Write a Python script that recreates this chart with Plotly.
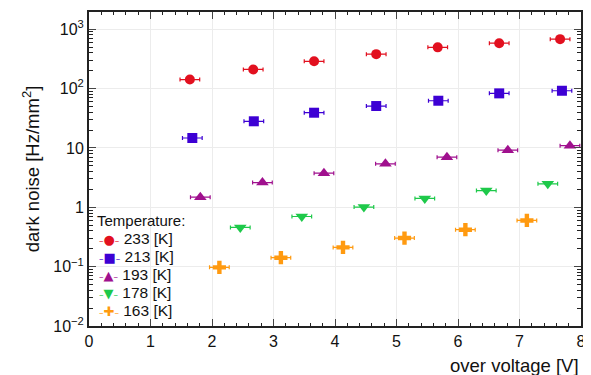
import plotly.graph_objects as go

# over voltage [V] and dark noise [Hz/mm^2] per temperature
ov_233 = [1.64, 2.67, 3.66, 4.67, 5.67, 6.67, 7.66]
dn_233 = [142, 210, 288, 380, 495, 582, 680]

ov_213 = [1.68, 2.68, 3.66, 4.67, 5.68, 6.67, 7.69]
dn_213 = [14.7, 28.1, 39.2, 50.8, 62.4, 83.0, 91.9]

ov_193 = [1.81, 2.82, 3.82, 4.82, 5.82, 6.81, 7.82]
dn_193 = [1.48, 2.61, 3.76, 5.39, 6.98, 9.15, 10.9]

ov_178 = [2.46, 3.46, 4.47, 5.46, 6.46, 7.46]
dn_178 = [0.458, 0.70, 1.01, 1.41, 1.91, 2.48]

ov_163 = [2.12, 3.12, 4.13, 5.13, 6.12, 7.12]
dn_163 = [0.0973, 0.1416, 0.211, 0.303, 0.419, 0.600]

ov_err = 0.16

labels = ["233 [K]", "213 [K]", "193 [K]", "178 [K]", "163 [K]"]
xs_all = [ov_233, ov_213, ov_193, ov_178, ov_163]
ys_all = [dn_233, dn_213, dn_193, dn_178, dn_163]
symbols = ["circle", "square", "triangle-up", "triangle-down", "cross"]
glyphs = ["\u25cf", "\u25a0", "\u25b2", "\u25bc", "\u271a"]
colors = ["#e2101f", "#3d00d4", "#a0108e", "#1ec94a", "#ff9a10"]
sizes = [10, 10, 11, 11, 11]

x_ticks = [0, 1, 2, 3, 4, 5, 6, 7, 8]
y_tickvals = [0.01, 0.1, 1, 10, 100, 1000]
y_ticktext = ["10<sup>\u22122</sup>", "10<sup>\u22121</sup>", "1", "10",
              "10<sup>2</sup>", "10<sup>3</sup>"]

font = "Liberation Sans, Arial, Helvetica, sans-serif"
txtcol = "#111"

fig = go.Figure()
for name, xs, ys, sym, col, sz in zip(labels, xs_all, ys_all, symbols, colors, sizes):
    fig.add_trace(go.Scatter(
        x=xs, y=ys, mode="markers", name=name, showlegend=False,
        marker=dict(symbol=sym, color=col, size=sz, line=dict(width=0)),
        error_x=dict(type="constant", value=ov_err, color=col, thickness=1.2, width=2),
    ))

# page body has an 8px margin, so the figure is sized/placed to compensate
fig.update_layout(
    width=583, height=367,
    margin=dict(l=81, r=10, t=4, b=49, autoexpand=False),
    paper_bgcolor="white", plot_bgcolor="white",
    font=dict(family=font, size=15, color=txtcol),
    showlegend=False,
)
fig.update_xaxes(
    range=[0, 8], tickvals=x_ticks, ticks="inside", ticklen=7, tickwidth=1,
    showline=True, linecolor="#222", linewidth=2, mirror="allticks",
    showgrid=True, gridcolor="#ececec", gridwidth=1, zeroline=False,
    tickfont=dict(size=16), automargin=False,
    minor=dict(ticks="inside", dtick=0.2, ticklen=3, tickcolor="#222", showgrid=False),
)
fig.update_yaxes(
    type="log", range=[-2, 3.29], tickvals=y_tickvals, ticktext=y_ticktext,
    ticks="inside", ticklen=7, tickwidth=1,
    showline=True, linecolor="#222", linewidth=2, mirror="allticks",
    showgrid=True, gridcolor="#ececec", gridwidth=1,
    tickfont=dict(size=16), automargin=False,
    minor=dict(ticks="inside", dtick="D1", ticklen=4, tickcolor="#222", showgrid=False),
    title=dict(text="dark noise [Hz/mm<sup>2</sup>]", font=dict(size=18.5), standoff=9),
)
# x title right-aligned below axis
fig.add_annotation(text="over voltage [V]", xref="paper", yref="paper",
                   x=1.0, y=-0.085, xanchor="right", yanchor="top",
                   showarrow=False, font=dict(size=18.5, family=font, color=txtcol))

# legend drawn as text: title, then one line per series (glyph with bar + label)
leg_x0 = 0.012
leg_top = 0.335
leg_step = 0.057
fig.add_annotation(text="Temperature:", xref="paper", yref="paper",
                   x=leg_x0, y=leg_top, xanchor="left", yanchor="middle",
                   showarrow=False, font=dict(size=15, family=font, color=txtcol))
for i, (lab, g, col) in enumerate(zip(labels, glyphs, colors)):
    yy = leg_top - leg_step * (i + 1)
    txt = (f"<span style='font-family:DejaVu Sans;color:{col};font-size:9px'>\u2013</span>"
           f"<span style='font-family:DejaVu Sans;color:{col};font-size:13px'>{g}</span>"
           f"<span style='font-family:DejaVu Sans;color:{col};font-size:9px'>\u2013</span>"
           f" {lab}")
    fig.add_annotation(text=txt, xref="paper", yref="paper",
                       x=0.017, y=yy, xanchor="left", yanchor="middle",
                       showarrow=False, font=dict(size=15.5, family=font, color=txtcol))

fig.write_html("out.html")
